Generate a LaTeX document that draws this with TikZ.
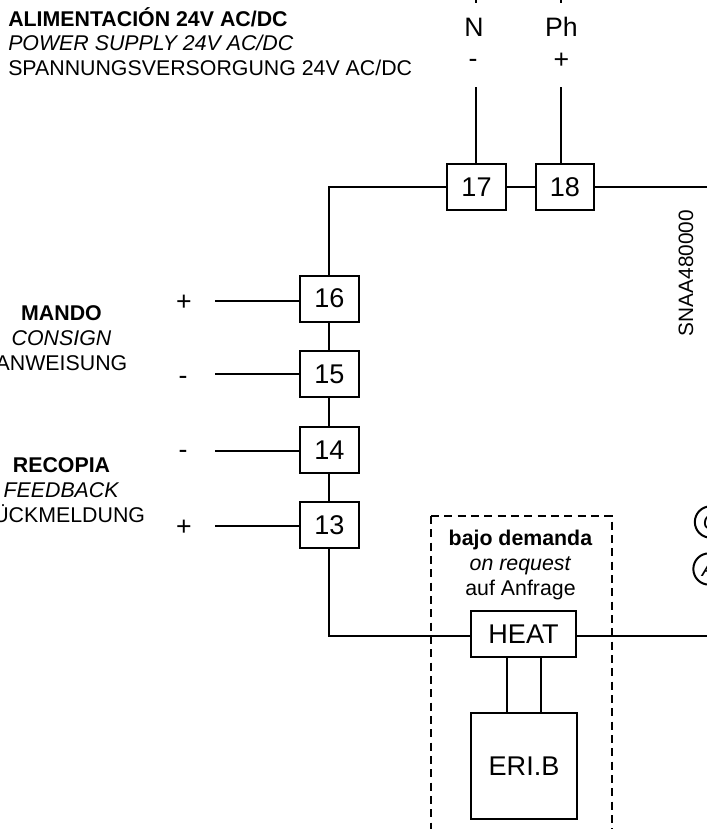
\documentclass[tikz,border=0pt]{standalone}
\usepackage{fontspec}
\setmainfont{Liberation Sans}
\tikzset{
  terminal/.style={draw,line width=1.5pt,minimum width=44pt,minimum height=34.5pt,inner sep=0pt,font=\fontsize{20.3}{24}\selectfont},
  wire/.style={line width=1.5pt},
  label/.style={inner sep=0.75pt,font=\fontsize{16}{18.6}\selectfont,align=center},
  sign/.style={inner sep=0.75pt,font=\fontsize{20}{24}\selectfont},
  badge/.style={draw,circle,line width=1.5pt,minimum size=23.5pt,inner sep=0pt,font=\fontsize{16}{18}\selectfont\itshape},
}
\begin{document}
\begin{tikzpicture}[x=0.75pt,y=0.75pt,yscale=-1,xscale=1]
\useasboundingbox (0,0) rectangle (707,829);
\clip (0,0) rectangle (707,829);

%Shape: Terminals
\node [terminal] (t17) at (476.5,187) {17};
\node [terminal] (t18) at (565,187) {18};
\node [terminal] (t16) at (329.5,298.5) {16};
\node [terminal] (t15) at (329.5,374) {15};
\node [terminal] (t14) at (329.5,450) {14};
\node [terminal] (t13) at (329.5,525) {13};
\node [terminal,minimum width=79pt] (heat) at (523.5,634) {HEAT};
\node [terminal,minimum width=79pt,minimum height=79pt] (erib) at (524,766) {ERI.B};

%Shape: Circles
\node [badge] (bc) at (710.5,522) {C};
\node [badge] (ba) at (709,569) {A};

%Free ends
\coordinate (nup) at (476,87);
\coordinate (phup) at (560.5,87);
\coordinate (ntop) at (476,-2);
\coordinate (ntopb) at (476,3);
\coordinate (phtop) at (560.5,-2);
\coordinate (phtopb) at (560.5,3);
\coordinate (right18) at (709,187);
\coordinate (rightheat) at (709,635.5);
\coordinate (corner) at (328.5,187);
\coordinate (cornerb) at (328.5,635.5);
\coordinate (w16) at (215,301);
\coordinate (w15) at (215,374);
\coordinate (w14) at (215,451);
\coordinate (w13) at (215,526);
\coordinate (hl) at (507,0);
\coordinate (hr) at (541,0);

%Straight Lines
\draw [wire] (nup) -- (nup |- t17.north);
\draw [wire] (phup) -- (phup |- t18.north);
\draw [wire] (ntop) -- (ntopb);
\draw [wire] (phtop) -- (phtopb);
\draw [wire] (t17) -- (t18);
\draw [wire] (t18) -- (right18);
\draw [wire] (t17.west |- corner) -- (corner) -- (corner |- t16.north);
\draw [wire] (corner |- t16.south) -- (corner |- t15.north);
\draw [wire] (corner |- t15.south) -- (corner |- t14.north);
\draw [wire] (corner |- t14.south) -- (corner |- t13.north);
\draw [wire] (corner |- t13.south) -- (cornerb) -- (heat.west |- cornerb);
\draw [wire] (heat.east |- rightheat) -- (rightheat);
\draw [wire] (w16) -- (t16.west |- w16);
\draw [wire] (w15) -- (t15.west |- w15);
\draw [wire] (w14) -- (t14.west |- w14);
\draw [wire] (w13) -- (t13.west |- w13);
\draw [wire] (hl |- heat.south) -- (hl |- erib.north);
\draw [wire] (hr |- heat.south) -- (hr |- erib.north);

%Dashed frame
\draw [dash pattern={on 6pt off 4pt},line width=0.8pt] (431,516) -- (431,835);
\draw [dash pattern={on 6pt off 4pt},line width=1.5pt] (431,516) -- (612,516) -- (612,835);

% Text Node
\node [label,align=left,anchor=west] (supply) at (7,41.5) {\textbf{ALIMENTACIÓN 24V AC/DC}\\\textit{POWER SUPPLY 24V AC/DC}\\SPANNUNGSVERSORGUNG 24V AC/DC};
\node [label] (mando) at (61.5,338) {\textbf{MANDO}\\\textit{CONSIGN}\\ANWEISUNG};
\node [label] (recopia) at (61.5,490) {\textbf{RECOPIA}\\\textit{FEEDBACK}\\RÜCKMELDUNG};
\node [label] (demand) at (520.5,565) {\textbf{bajo demanda}\\\textit{on request}\\auf Anfrage};
\node [sign] (sn) at (474,27) {N};
\node [sign] (sph) at (561.5,27) {Ph};
\node [sign] (smin) at (473,63) {-};
\node [sign] (spl) at (561.5,61) {+};
\node [sign] (s16) at (184,303) {+};
\node [sign] (s15) at (183,380) {-};
\node [sign] (s14) at (183,454) {-};
\node [sign] (s13) at (184,528) {+};
\node [label,rotate=90,font=\fontsize{15.6}{18}\selectfont] (ref) at (686,273) {SNAA480000};
\end{tikzpicture}
\end{document}
